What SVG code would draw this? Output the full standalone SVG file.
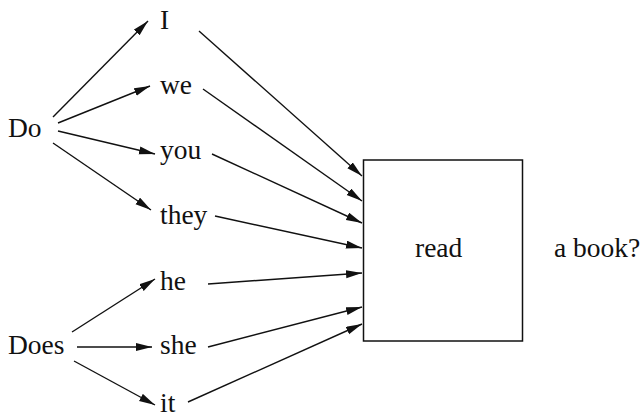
<svg xmlns="http://www.w3.org/2000/svg" width="642" height="419" viewBox="0 0 642 419">
<defs>
<style>
text{font-family:'Liberation Serif','DejaVu Serif',serif;font-size:27.5px;fill:#111}
.c line{stroke:#111;stroke-width:1.4;marker-end:url(#ah)}
.box{fill:#fff;stroke:#111;stroke-width:1.5}
</style>
<marker id="ah" markerUnits="userSpaceOnUse" markerWidth="17" markerHeight="9" refX="16" refY="4" orient="auto">
<path d="M0,0 L16,4 L0,8 Z" fill="#111"/>
</marker>
</defs>
<rect width="642" height="419" fill="#fff"/>
<g font-family="Liberation Serif, serif">
<g id="node-do"><text x="8" y="137">Do</text></g>
<g id="node-does"><text x="8" y="354">Does</text></g>
<g id="node-I"><text x="160" y="29">I</text></g>
<g id="node-we"><text x="160" y="94">we</text></g>
<g id="node-you"><text x="160" y="159">you</text></g>
<g id="node-they"><text x="160" y="224">they</text></g>
<g id="node-he"><text x="160" y="290">he</text></g>
<g id="node-she"><text x="160" y="354">she</text></g>
<g id="node-it"><text x="160" y="412">it</text></g>
<g id="node-read"><rect class="box" x="363.5" y="160" width="159" height="181"/><text x="415" y="257">read</text></g>
<g id="node-book"><text x="554" y="257">a book?</text></g>
</g>
<g class="c" id="connectors">
<line x1="53" y1="117" x2="148" y2="21"/>
<line x1="58" y1="123" x2="150" y2="86"/>
<line x1="58" y1="131" x2="155" y2="154"/>
<line x1="53" y1="143" x2="151" y2="210"/>
<line x1="72" y1="332" x2="155" y2="279"/>
<line x1="77" y1="347" x2="152" y2="347"/>
<line x1="74" y1="361" x2="155" y2="405"/>
<line x1="199" y1="31" x2="362" y2="176"/>
<line x1="203" y1="89" x2="362" y2="201"/>
<line x1="212" y1="154" x2="362" y2="223"/>
<line x1="215" y1="216" x2="362" y2="248"/>
<line x1="208" y1="284" x2="362" y2="273"/>
<line x1="208" y1="347" x2="362" y2="307"/>
<line x1="188" y1="402" x2="362" y2="324"/>
</g>
</svg>
